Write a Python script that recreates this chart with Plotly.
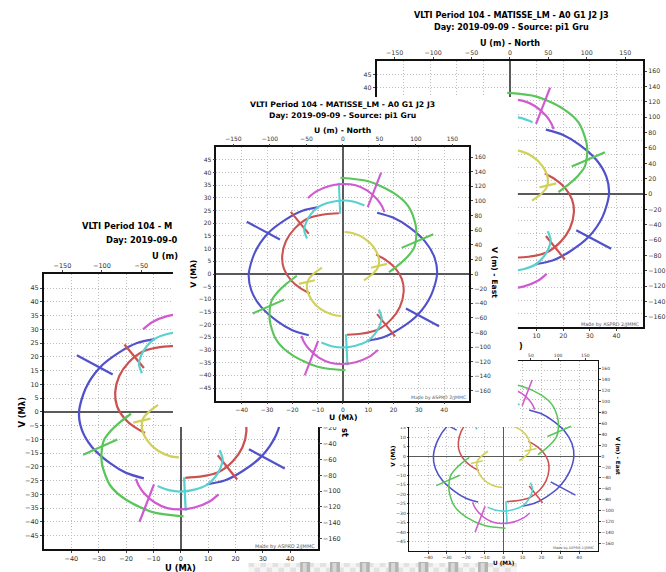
import plotly.graph_objects as go

W, H = 666, 572
FONT = "DejaVu Sans"

# ---------------- data ----------------
WAVELENGTH_UM = 3.467          # 1 Mlambda = 3.467 m for MATISSE LM
AXIS_LIMIT = 50                # Mlambda

U_TICKS_MLAMBDA = [-40, -30, -20, -10, 0, 10, 20, 30, 40]
V_TICKS_MLAMBDA = [-45, -40, -35, -30, -25, -20, -15, -10, -5, 0, 5, 10, 15, 20, 25, 30, 35, 40, 45]
U_TICKS_M = [-150, -100, -50, 0, 50, 100, 150]
V_TICKS_M = [-160, -140, -120, -100, -80, -60, -40, -20, 0, 20, 40, 60, 80, 100, 120, 140, 160]

TITLE_LINE1 = "VLTI Period 104 - MATISSE_LM - A0 G1 J2 J3"
TITLE_LINE2 = "Day: 2019-09-09 - Source: pi1 Gru"
CREDIT = "Made by ASPRO 2/JMMC"

BASELINE_NAMES = ["blue", "red", "green", "yellow", "cyan", "magenta"]
BASELINE_COLORS = ["#5151cc", "#cc5252", "#5ac55a", "#d0d05a", "#5ad0d0", "#d05ad0"]

blue_track1_u = [9.5, 16.0, 22.5, 29.5, 34.8, 37.2, 36.2, 32.5, 26.0, 20.0, 13.5]
blue_track1_v = [-26.4, -25.0, -21.6, -16.2, -8.5, 0.0, 6.5, 12.8, 18.6, 22.2, 24.2]
blue_track2_u = [-9.5, -16.0, -22.5, -29.5, -34.8, -37.2, -36.2, -32.5, -26.0, -20.0, -13.5]
blue_track2_v = [26.4, 25.0, 21.6, 16.2, 8.5, 0.0, -6.5, -12.8, -18.6, -22.2, -24.2]
blue_spec1_u, blue_spec1_v = [24.9, 38.0], [-13.6, -20.6]
blue_spec2_u, blue_spec2_v = [-38.0, -24.9], [20.6, 13.6]

red_track1_u = [1.6, 7.0, 13.7, 19.0, 22.5, 24.0, 23.3, 20.5, 17.0, 13.1]
red_track1_v = [-24.0, -23.6, -22.0, -18.0, -13.0, -7.0, -2.0, 2.5, 5.5, 7.7]
red_track2_u = [-1.6, -7.0, -13.7, -19.0, -22.5, -24.0, -23.3, -20.5, -17.0, -13.1]
red_track2_v = [24.0, 23.6, 22.0, 18.0, 13.0, 7.0, 2.0, -2.5, -5.5, -7.7]
red_spec1_u, red_spec1_v = [13.5, 20.6], [-15.8, -24.6]
red_spec2_u, red_spec2_v = [-20.6, -13.5], [24.5, 15.9]

green_track1_u = [-1.0, 10.0, 20.0, 25.8, 28.7, 29.0, 28.1, 25.5, 22.5, 18.2]
green_track1_v = [38.0, 36.6, 32.0, 26.8, 19.5, 15.3, 10.3, 6.8, 4.0, 0.7]
green_track2_u = [1.0, -10.0, -20.0, -25.8, -28.7, -29.0, -28.1, -25.5, -22.5, -18.2]
green_track2_v = [-38.0, -36.6, -32.0, -26.8, -19.5, -15.3, -10.3, -6.8, -4.0, -0.7]
green_spec1_u, green_spec1_v = [23.2, 35.7], [10.3, 15.7]
green_spec2_u, green_spec2_v = [-35.7, -23.2], [-15.6, -10.1]

yellow_track1_u = [0.7, 4.0, 8.6, 12.2, 14.2, 13.8, 12.0, 8.3]
yellow_track1_v = [16.6, 16.1, 14.0, 10.5, 6.0, 2.5, 0.3, -2.5]
yellow_track2_u = [-0.7, -4.0, -8.6, -12.2, -14.2, -13.8, -12.0, -8.3]
yellow_track2_v = [-16.6, -16.1, -14.0, -10.5, -6.0, -2.5, -0.3, 2.5]
yellow_spec1_u, yellow_spec1_v = [11.1, 17.4], [2.5, 4.0]
yellow_spec2_u, yellow_spec2_v = [-17.4, -11.1], [-3.9, -2.5]

cyan_track1_u = [8.5, 4.0, 0.0, -5.0, -9.8, -12.5, -14.5, -15.3, -14.2]
cyan_track1_v = [27.0, 28.6, 29.0, 28.3, 26.4, 23.8, 20.5, 17.3, 14.0]
cyan_track2_u = [-8.5, -4.0, 0.0, 5.0, 9.8, 12.5, 14.5, 15.3, 14.2]
cyan_track2_v = [-27.0, -28.6, -29.0, -28.3, -26.4, -23.8, -20.5, -17.3, -14.0]
cyan_spec1_u, cyan_spec1_v = [-1.6, -1.1], [36.0, 23.8]
cyan_spec2_u, cyan_spec2_v = [1.2, 1.8], [-23.8, -36.0]

magenta_track1_u = [-13.8, -10.5, -5.0, 0.0, 5.0, 9.5, 13.5, 15.5, 16.4]
magenta_track1_v = [30.0, 32.6, 34.8, 35.5, 35.0, 33.0, 29.5, 26.6, 24.4]
magenta_track2_u = [13.8, 10.5, 5.0, 0.0, -5.0, -9.5, -13.5, -15.5, -16.4]
magenta_track2_v = [-30.0, -32.6, -34.8, -35.5, -35.0, -33.0, -29.5, -26.6, -24.4]
magenta_spec1_u, magenta_spec1_v = [9.8, 15.1], [26.4, 40.0]
magenta_spec2_u, magenta_spec2_v = [-15.1, -9.8], [-40.0, -26.4]

TRACKS = {
    "blue": [(blue_track1_u, blue_track1_v), (blue_track2_u, blue_track2_v),
             (blue_spec1_u, blue_spec1_v), (blue_spec2_u, blue_spec2_v)],
    "red": [(red_track1_u, red_track1_v), (red_track2_u, red_track2_v),
            (red_spec1_u, red_spec1_v), (red_spec2_u, red_spec2_v)],
    "green": [(green_track1_u, green_track1_v), (green_track2_u, green_track2_v),
              (green_spec1_u, green_spec1_v), (green_spec2_u, green_spec2_v)],
    "yellow": [(yellow_track1_u, yellow_track1_v), (yellow_track2_u, yellow_track2_v),
               (yellow_spec1_u, yellow_spec1_v), (yellow_spec2_u, yellow_spec2_v)],
    "cyan": [(cyan_track1_u, cyan_track1_v), (cyan_track2_u, cyan_track2_v),
             (cyan_spec1_u, cyan_spec1_v), (cyan_spec2_u, cyan_spec2_v)],
    "magenta": [(magenta_track1_u, magenta_track1_v), (magenta_track2_u, magenta_track2_v),
                (magenta_spec1_u, magenta_spec1_v), (magenta_spec2_u, magenta_spec2_v)],
}

# ---------------- layout of the collage (pixel boxes) ----------------
# name, main axis id, overlay axis id, plot box (left, top, right, bottom), scale,
# smallest V label / smallest U label left visible (the rest lies under the front card)
PANELS = [
    ("D", "", "2", (411.7, 361.0, 601.7, 551.0), 0.748, None, None),
    ("C", "3", "4", (44.3, 274.3, 319.5, 549.3), 1.083, None, None),
    ("A", "5", "6", (379.0, 61.0, 647.0, 327.0), 1.05, 40, 10),
    ("CARD", "7", None, (174.0, 97.0, 521.0, 427.0), 1.0, None, None),
    ("B", "8", "9", (217.7, 147.3, 472.3, 400.7), 1.0, None, None),
]


def dom_x(l, r):
    return [l / W, r / W]


def dom_y(t, b):
    return [1 - b / H, 1 - t / H]


def joined(parts):
    xs, ys = [], []
    for i, (px, py) in enumerate(parts):
        if i:
            xs.append(None)
            ys.append(None)
        xs.extend(px)
        ys.extend(py)
    return xs, ys


def tick_label(v):
    return ("\u2212%d" % -v) if v < 0 else ("%d" % v)


def tick_texts(vals, vmin):
    return [tick_label(v) if (vmin is None or v >= vmin) else "" for v in vals]


fig = go.Figure()
layout_axes = {}

for name, mid, oid, (l, t, r, b), s, vmin_label, umin_label in PANELS:
    xk = "xaxis" + mid
    yk = "yaxis" + mid
    xr = "x" + mid
    yr = "y" + mid
    if name == "CARD":
        layout_axes[xk] = dict(domain=dom_x(l, r), range=[0, 1], visible=False,
                               anchor=yr, fixedrange=True)
        layout_axes[yk] = dict(domain=dom_y(t, b), range=[0, 1], visible=False,
                               anchor=xr, fixedrange=True)
        fig.add_trace(go.Scatter(x=[None], y=[None], xaxis=xr, yaxis=yr,
                                 showlegend=False, hoverinfo="skip"))
        continue

    tickfont = dict(family=FONT, size=6.0 * s, color="#333333")
    common = dict(ticks="outside", ticklen=2 * s, tickwidth=1, tickcolor="#444444",
                  showline=True, linecolor="#111111", linewidth=1.5 * s,
                  tickfont=tickfont, fixedrange=True)
    grid = dict(showgrid=True, gridcolor="#bdbdbd", griddash="1px,2px", gridwidth=1,
                zeroline=True, zerolinecolor="#5a5a5a", zerolinewidth=2.0 * s)

    layout_axes[xk] = dict(domain=dom_x(l, r), range=[-AXIS_LIMIT, AXIS_LIMIT], anchor=yr,
                           tickvals=U_TICKS_MLAMBDA,
                           ticktext=tick_texts(U_TICKS_MLAMBDA, umin_label),
                           **common, **grid)
    layout_axes[yk] = dict(domain=dom_y(t, b), range=[-AXIS_LIMIT, AXIS_LIMIT], anchor=xr,
                           tickvals=V_TICKS_MLAMBDA,
                           ticktext=tick_texts(V_TICKS_MLAMBDA, vmin_label),
                           **common, **grid)
    lim_m = AXIS_LIMIT * WAVELENGTH_UM
    layout_axes["xaxis" + oid] = dict(overlaying=xr, anchor=yr, side="top",
                                      range=[-lim_m, lim_m], tickvals=U_TICKS_M,
                                      showgrid=False, zeroline=False, **common)
    layout_axes["yaxis" + oid] = dict(overlaying=yr, anchor=xr, side="right",
                                      range=[-lim_m, lim_m], tickvals=V_TICKS_M,
                                      showgrid=False, zeroline=False, **common)

    for bname, color in zip(BASELINE_NAMES, BASELINE_COLORS):
        xs, ys = joined(TRACKS[bname])
        fig.add_trace(go.Scatter(
            x=xs, y=ys, mode="lines", xaxis=xr, yaxis=yr,
            line=dict(color=color, width=2.1 * s, shape="spline", smoothing=0.8),
            connectgaps=False, showlegend=False, hoverinfo="skip"))
    fig.add_trace(go.Scatter(x=[None], y=[None], xaxis="x" + oid, yaxis=yr,
                             showlegend=False, hoverinfo="skip"))
    fig.add_trace(go.Scatter(x=[None], y=[None], xaxis=xr, yaxis="y" + oid,
                             showlegend=False, hoverinfo="skip"))

# ---------------- text ----------------
annotations = []


def ann(text, x, y, size, bold=True, angle=0, xanchor="center", color="#000000"):
    annotations.append(dict(
        text=("<b>%s</b>" % text) if bold else text,
        x=x / W, y=1 - y / H, xref="paper", yref="paper",
        xanchor=xanchor, yanchor="middle", showarrow=False, textangle=angle,
        font=dict(family=FONT, size=size, color=color), borderpad=0))


# panel B (front)
sB = 1.0
ann(TITLE_LINE1, 345, 104, 7.7 * sB)
ann(TITLE_LINE2, 345, 115, 7.7 * sB)
ann("U (m) - North", 345, 130, 7.7 * sB)
ann("V (Mλ)", 195, 274, 7.7 * sB, angle=-90)
ann("V (m) - East", 498, 272, 7.7 * sB, angle=90)
ann("U (Mλ)", 345, 417, 7.7 * sB)
ann(CREDIT, 470, 397, 4.6 * sB, bold=False, xanchor="right", color="#555555")

# panel A (top right)
sA = 1.05
ann(TITLE_LINE1, 515, 15, 7.7 * sA)
ann(TITLE_LINE2, 515, 26.5, 7.7 * sA)
ann("U (m) - North", 513, 42.7, 7.7 * sA)
ann(")", 524, 346, 7.7 * sA)
ann(CREDIT, 645, 324.5, 4.6 * sA, bold=False, xanchor="right", color="#555555")

# panel C (bottom left, partly hidden)
sC = 1.083
ann("VLTI Period 104 - M", 81.7, 226, 7.7 * sC, xanchor="left")
ann("Day: 2019-09-0", 106, 239.5, 7.7 * sC, xanchor="left")
ann("U (m)", 152, 256, 7.7 * sC, xanchor="left")
ann("V (Mλ)", 21.7, 412, 7.7 * sC, angle=-90)
ann("U (Mλ)", 182, 567.5, 7.7 * sC)
ann("st", 347, 433, 7.7 * sC, angle=90)
ann(CREDIT, 318, 546.5, 4.6 * sC, bold=False, xanchor="right", color="#555555")

# panel D (bottom right, small)
sD = 0.748
ann("V (Mλ)", 395, 456, 7.7 * sD, angle=-90)
ann("V (m) - East", 622, 456, 7.7 * sD, angle=90)
ann("U (Mλ)", 507, 562.5, 7.7 * sD)
ann(CREDIT, 600, 548, 4.6 * sD, bold=False, xanchor="right", color="#555555")

# ---------------- bottom strip decoration ----------------
shapes = []
sq = 6
x = 250
col = 0
while x < 520:
    for row, (y0, y1) in enumerate([(563, 567.5), (567.5, 572)]):
        fill = "#e2e2e2" if (col + row) % 2 == 0 else "#f5f5f5"
        shapes.append(dict(type="rect", xref="paper", yref="paper",
                           x0=x / W, x1=min(x + sq, 520) / W,
                           y0=1 - y1 / H, y1=1 - y0 / H,
                           fillcolor=fill, line=dict(width=0), layer="above"))
    x += sq
    col += 1
for cx in [307, 337, 367, 396, 426, 456, 486]:
    shapes.append(dict(type="rect", xref="paper", yref="paper",
                       x0=(cx - 5) / W, x1=(cx + 5) / W, y0=0, y1=1 - 562 / H,
                       fillcolor="#b4b4b4", line=dict(width=0), layer="above"))
    shapes.append(dict(type="rect", xref="paper", yref="paper",
                       x0=(cx - 2.5) / W, x1=(cx + 1.5) / W, y0=0, y1=1 - 563 / H,
                       fillcolor="#d8d8d8", line=dict(width=0), layer="above"))

fig.update_layout(
    width=W, height=H, autosize=False,
    margin=dict(l=0, r=0, t=0, b=0, pad=0),
    paper_bgcolor="white", plot_bgcolor="white",
    showlegend=False, hovermode=False,
    font=dict(family=FONT, size=7, color="#222222"),
    annotations=annotations, shapes=shapes,
    **layout_axes,
)

fig.write_html("out.html")
